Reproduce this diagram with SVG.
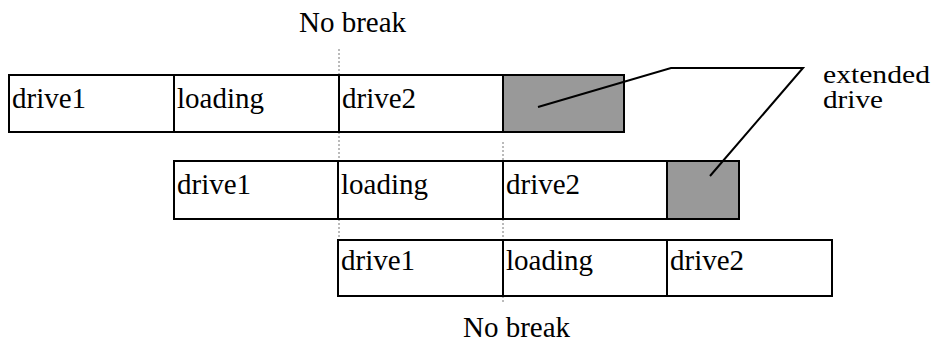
<svg xmlns="http://www.w3.org/2000/svg" width="933" height="343" viewBox="0 0 933 343">
<style>
.box{fill:#fff;stroke:#000;stroke-width:2}
.ext{fill:#999;stroke:#000;stroke-width:2}
text{font-family:'Liberation Serif','Times New Roman',serif;font-size:29px;fill:#000}
.s{font-size:25px}
.dot{stroke:#777;stroke-width:1;stroke-dasharray:2 2;fill:none}
.lead{stroke:#000;stroke-width:2;fill:none}
</style>
<rect width="933" height="343" fill="#fff"/>
<g id="guides">
<line class="dot" x1="339" y1="49" x2="339" y2="75"/>
<line class="dot" x1="339" y1="132" x2="339" y2="161"/>
<line class="dot" x1="339" y1="219" x2="339" y2="240"/>
<line class="dot" x1="503" y1="142" x2="503" y2="161"/>
<line class="dot" x1="503" y1="219" x2="503" y2="240"/>
<line class="dot" x1="503" y1="296" x2="503" y2="302"/>
</g>
<g id="row1">
<rect class="box" x="9" y="75" width="165" height="57"/>
<rect class="box" x="174" y="75" width="165" height="57"/>
<rect class="box" x="339" y="75" width="164" height="57"/>
<rect class="ext" x="503" y="75" width="121" height="57"/>
<text x="12" y="108">drive1</text>
<text x="177" y="108">loading</text>
<text x="342" y="108">drive2</text>
</g>
<g id="row2">
<rect class="box" x="174" y="161" width="164" height="58"/>
<rect class="box" x="338" y="161" width="165" height="58"/>
<rect class="box" x="503" y="161" width="164" height="58"/>
<rect class="ext" x="667" y="161" width="72" height="58"/>
<text x="177" y="194">drive1</text>
<text x="341" y="194">loading</text>
<text x="506" y="194">drive2</text>
</g>
<g id="row3">
<rect class="box" x="338" y="240" width="165" height="56"/>
<rect class="box" x="503" y="240" width="164" height="56"/>
<rect class="box" x="667" y="240" width="165" height="56"/>
<text x="341" y="270">drive1</text>
<text x="506" y="270">loading</text>
<text x="670" y="270">drive2</text>
</g>
<g id="connectors">
<polyline class="lead" points="538,107 671,68 803,68 710,176"/>
</g>
<g id="labels">
<text x="299" y="32">No break</text>
<text x="463" y="337">No break</text>
<text class="s" x="823" y="83" textLength="107" lengthAdjust="spacingAndGlyphs">extended</text>
<text class="s" x="823" y="108" textLength="60" lengthAdjust="spacingAndGlyphs">drive</text>
</g>
</svg>
